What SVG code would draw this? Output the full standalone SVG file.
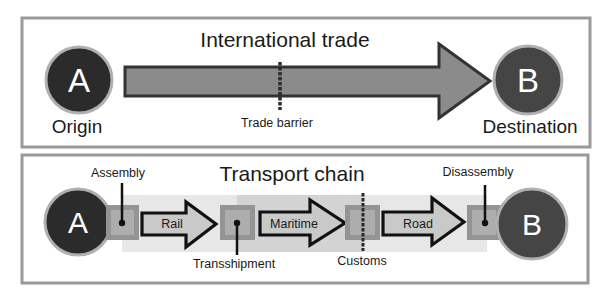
<svg xmlns="http://www.w3.org/2000/svg" width="613" height="296" viewBox="0 0 613 296">
<style>
text{font-family:"Liberation Sans",Arial,sans-serif;fill:#1a1a1a}
.panel{fill:#fff;stroke:#9a9a9a;stroke-width:3}
.big{font-size:21px}
.lbl{font-size:19px}
.sm{font-size:12.5px}
.node{stroke:#b0b0b0;stroke-width:3}
.letter{fill:#fff;text-anchor:middle}
.bar{stroke:#2a2a2a;stroke-dasharray:3.5 1.5;fill:none}
.sqo{fill:#949494}
.sqi{fill:#adadad}
.leg{stroke:#111;stroke-width:2.5;fill:none}
.dot{fill:#111}
.tarr{fill:#c9c9c9;stroke:#111;stroke-width:3.2;stroke-linejoin:miter}
</style>
<rect width="613" height="296" fill="#fff"/>
<g id="panel-top">
<rect class="panel" x="22" y="18" width="568" height="129"/>
<text class="big" x="285" y="47" text-anchor="middle">International trade</text>
</g>
<g id="panel-bottom">
<rect class="panel" x="22" y="155" width="566" height="128"/>
<text class="big" x="292" y="181" text-anchor="middle">Transport chain</text>
<rect x="122" y="195" width="365" height="57" fill="#e7e7e7"/>
<rect x="237" y="195" width="126" height="57" fill="#d3d3d3"/>
</g>
<g id="connectors">
<polygon points="125,67 439,67 439,44 490,81 439,118 439,96 125,96" fill="#8b8b8b" stroke="#333" stroke-width="3"/>
<line class="bar" x1="280" y1="62" x2="280" y2="110" stroke-width="3.5"/>
<polygon class="tarr" points="142,213 186,213 186,202 216,224 186,247 186,235 142,235"/>
<text class="sm" x="172" y="228" text-anchor="middle">Rail</text>
<polygon class="tarr" points="260,212 310,212 310,200 345,223 310,245 310,235 260,235"/>
<text class="sm" x="294" y="228" text-anchor="middle">Maritime</text>
<polygon class="tarr" points="383,212 432,212 432,198 464,222 432,245 432,235 383,235"/>
<text class="sm" x="418" y="228" text-anchor="middle">Road</text>
</g>
<g id="node-origin">
<circle class="node" cx="79" cy="80" r="33" fill="#2b2b2b"/>
<text class="letter" x="79" y="92" font-size="33">A</text>
<text class="lbl" x="77" y="133" text-anchor="middle">Origin</text>
</g>
<g id="node-destination">
<circle class="node" cx="528" cy="80" r="34" fill="#454545"/>
<text class="letter" x="528" y="92" font-size="33">B</text>
<text class="lbl" x="530" y="133" text-anchor="middle">Destination</text>
</g>
<g id="node-trade-barrier">
<text class="sm" x="277" y="127" text-anchor="middle" font-size="12">Trade barrier</text>
</g>
<g id="node-a">
<circle class="node" cx="78" cy="222" r="33" fill="#2b2b2b"/>
<text class="letter" x="78" y="233" font-size="30">A</text>
</g>
<g id="node-assembly">
<rect class="sqo" x="106" y="205" width="33" height="35"/>
<rect class="sqi" x="111" y="210" width="23" height="25"/>
<line class="leg" x1="122" y1="183" x2="122" y2="223"/>
<circle class="dot" cx="122" cy="223" r="3.2"/>
<text class="sm" x="118" y="177" text-anchor="middle">Assembly</text>
</g>
<g id="node-transshipment">
<rect class="sqo" x="220" y="205" width="35" height="35"/>
<rect class="sqi" x="225" y="210" width="25" height="25"/>
<line class="leg" x1="237" y1="223" x2="237" y2="255"/>
<circle class="dot" cx="237" cy="223" r="3.2"/>
<text class="sm" x="234" y="268" text-anchor="middle">Transshipment</text>
</g>
<g id="node-customs">
<rect class="sqo" x="345" y="205" width="35" height="35"/>
<rect class="sqi" x="350" y="210" width="25" height="25"/>
<line class="bar" x1="363" y1="193" x2="363" y2="251" stroke-width="3"/>
<text class="sm" x="362" y="265" text-anchor="middle">Customs</text>
</g>
<g id="node-disassembly">
<rect class="sqo" x="467" y="205" width="34" height="35"/>
<rect class="sqi" x="472" y="210" width="24" height="25"/>
<line class="leg" x1="485" y1="185" x2="485" y2="223"/>
<circle class="dot" cx="485" cy="223" r="3.2"/>
<text class="sm" x="478" y="176" text-anchor="middle">Disassembly</text>
</g>
<g id="node-b">
<circle class="node" cx="532" cy="224" r="35" fill="#454545"/>
<text class="letter" x="532" y="235" font-size="30">B</text>
</g>
</svg>
